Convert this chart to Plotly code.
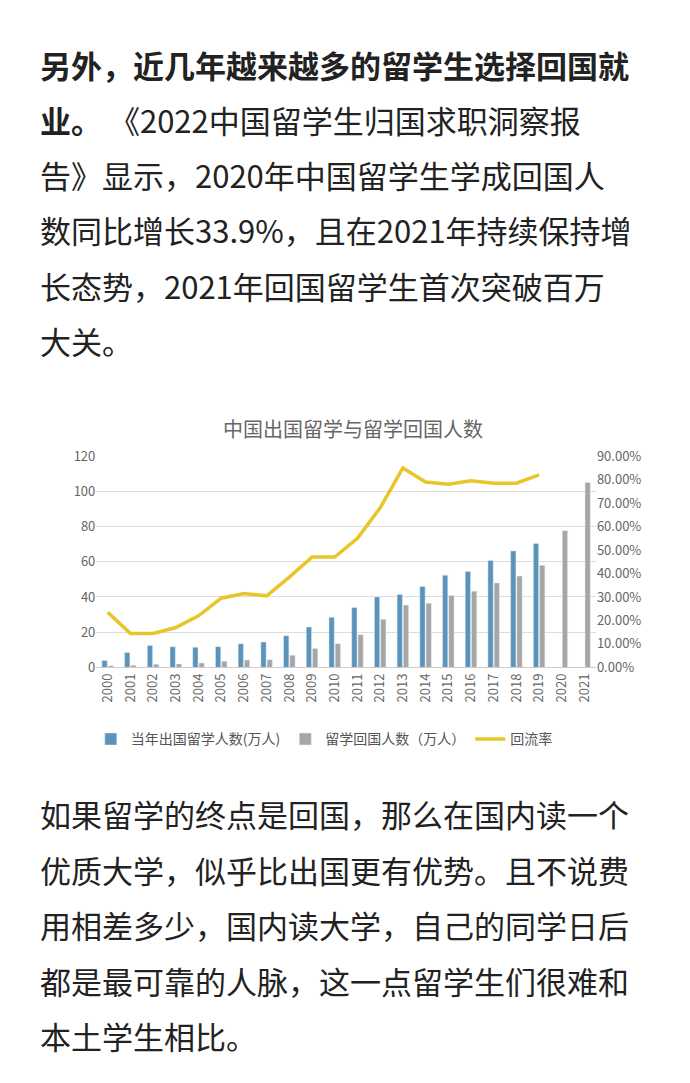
import plotly.graph_objects as go

years = [str(y) for y in range(2000, 2022)]
outbound = [3.9, 8.4, 12.5, 11.7, 11.5, 11.8, 13.4, 14.4, 18.0, 23.0, 28.5, 34.0,
            40.0, 41.4, 46.0, 52.4, 54.5, 60.8, 66.2, 70.4, None, None]
returned = [0.9, 1.2, 1.8, 2.0, 2.5, 3.5, 4.2, 4.4, 6.9, 10.8, 13.5, 18.6,
            27.3, 35.4, 36.5, 40.9, 43.3, 48.0, 51.9, 58.0, 77.7, 105.0]
rate = [23.5, 14.5, 14.5, 17.0, 22.0, 29.5, 31.5, 30.5, 38.5, 47.0, 47.0, 55.0,
        68.0, 85.0, 79.0, 78.0, 79.5, 78.5, 78.5, 82.0]

top_lines = [
    "<b>另外，近几年越来越多的留学生选择回国就</b>",
    "<b>业。</b> 《2022中国留学生归国求职洞察报",
    "告》显示，2020年中国留学生学成回国人",
    "数同比增长33.9%，且在2021年持续保持增",
    "长态势，2021年回国留学生首次突破百万",
    "大关。",
]
bottom_lines = [
    "如果留学的终点是回国，那么在国内读一个",
    "优质大学，似乎比出国更有优势。且不说费",
    "用相差多少，国内读大学，自己的同学日后",
    "都是最可靠的人脉，这一点留学生们很难和",
    "本土学生相比。",
]

H = 1083
font = "Noto Sans CJK SC"
fig = go.Figure()
fig.add_bar(x=years, y=outbound, name="当年出国留学人数(万人)", marker_color="#5B93BB")
fig.add_bar(x=years, y=returned, name="留学回国人数（万人）", marker_color="#A6A6A6")
fig.add_scatter(x=years[:len(rate)], y=rate, name="回流率", yaxis="y2", mode="lines",
                line=dict(color="#E8C52A", width=3.5))

ann = []
for i, t in enumerate(top_lines):
    ann.append(dict(text=t, x=30 / 690, y=1 - (47 + 56.2 * i) / H))
for i, t in enumerate(bottom_lines):
    ann.append(dict(text=t, x=30 / 690, y=1 - (810 + 56.5 * i) / H))
for a in ann:
    a.update(xref="paper", yref="paper", xanchor="left", yanchor="middle",
             showarrow=False, font=dict(size=31, color="#222", family=font))
ann.append(dict(text="中国出国留学与留学回国人数", x=0.5, y=1 - 418 / H, xref="paper", yref="paper",
                showarrow=False, font=dict(size=20, color="#666", family=font)))

fig.update_layout(
    width=690, height=H, margin=dict(l=0, r=0, t=0, b=0),
    paper_bgcolor="white", plot_bgcolor="white",
    font=dict(family=font, color="#666"),
    barmode="group", bargap=0.45, bargroupgap=0.15,
    annotations=ann,
    xaxis=dict(domain=[0.128, 0.852], tickangle=-90, tickfont=dict(size=13), showline=True,
               linecolor="#ccc", ticks=""),
    yaxis=dict(domain=[1 - 661 / H, 1 - 446 / H], range=[0, 120], dtick=20, gridcolor="#ddd",
               tickfont=dict(size=13), zeroline=False),
    yaxis2=dict(overlaying="y", side="right", range=[0, 90], dtick=10, ticksuffix=".00%",
                showgrid=False, tickfont=dict(size=13), zeroline=False),
    legend=dict(orientation="h", x=0.12, y=1 - 718 / H, yanchor="top", font=dict(size=14, color="#555")),
)
fig.write_html("out.html")
